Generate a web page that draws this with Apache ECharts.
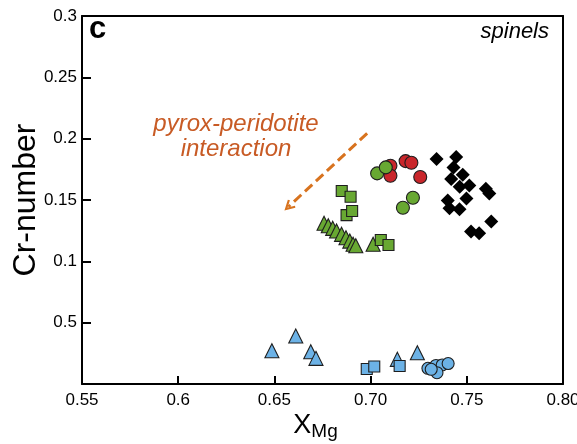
<!DOCTYPE html>
<html>
<head>
<meta charset="utf-8">
<script src="https://cdn.jsdelivr.net/npm/echarts@6/dist/echarts.min.js"></script>
<style>
html,body{margin:0;padding:0;background:#fff;}
#chart{width:577px;height:444px;}
</style>
</head>
<body>
<div id="chart"></div>
<script>
// ---- data ----
const xTickLabels = ['0.55', '0.6', '0.65', '0.70', '0.75', '0.80'];
const yTickLabels = ['', '0.5', '0.1', '0.15', '0.2', '0.25', '0.3'];

const blackDiamonds = [[0.7343,0.1834],[0.7445,0.185],[0.7431,0.1764],[0.7479,0.1706],[0.7419,0.1672],[0.7513,0.1619],[0.7463,0.1608],[0.7599,0.1591],[0.7617,0.1554],[0.7498,0.1513],[0.7401,0.1496],[0.741,0.1432],[0.7462,0.1425],[0.7627,0.1324],[0.7522,0.1244],[0.7564,0.1228]];
const redCircles = [[0.7103,0.1779],[0.7103,0.1698],[0.7182,0.1817],[0.7212,0.1804],[0.7258,0.1687]];
const greenCircles = [[0.7034,0.1717],[0.7079,0.1766],[0.722,0.1518],[0.7168,0.1437]];
const greenSquares = [[0.685,0.1573],[0.6896,0.1527],[0.6875,0.1377],[0.6904,0.141],[0.7053,0.1174],[0.7093,0.1133]];
const greenTriangles = [[0.6758,0.131],[0.678,0.129],[0.6803,0.1269],[0.6823,0.1247],[0.6849,0.122],[0.6872,0.1192],[0.6892,0.1165],[0.6909,0.1139],[0.6923,0.1127],[0.7013,0.1139]];
const blueTriangles = [[0.6487,0.0271],[0.6611,0.0391],[0.6689,0.0263],[0.6716,0.0209],[0.7139,0.0201],[0.7243,0.0255]];
const blueSquares = [[0.698,0.0122],[0.7019,0.0143],[0.7151,0.0147]];
const blueCircles = [[0.7298,0.0128],[0.734,0.0151],[0.7372,0.0155],[0.7403,0.0167],[0.7345,0.0092],[0.7315,0.012]];
const arrowStart = [0.6982, 0.2043];
const arrowEnd = [0.6573, 0.1445];

// ---- chart ----
const FONT = "'Liberation Sans', Arial, Helvetica, sans-serif";
const GREEN = '#68a832', RED = '#c9262b', BLUE = '#6cb2e6', EDGE = '#1e1e1e';
const chart = echarts.init(document.getElementById('chart'), null, {renderer: 'canvas'});

function sc(name, data, symbol, size, color, edge) {
  return {
    name: name, type: 'scatter', data: data, symbol: symbol, symbolSize: size,
    itemStyle: {color: color, borderColor: edge ? EDGE : color, borderWidth: edge ? 1.1 : 0, opacity: 1},
    emphasis: {disabled: true}, z: 3
  };
}

const chevron = 'path://M5,0 L10,8.2 L8.4,9.2 L5,3.6 L1.6,9.2 L0,8.2 Z';
const frameAxis = {
  show: true, axisLine: {show: true, onZero: false, lineStyle: {color: '#000', width: 2}},
  axisTick: {show: false}, axisLabel: {show: false}, splitLine: {show: false}
};

chart.setOption({
  animation: false,
  backgroundColor: '#fff',
  grid: {left: 82, right: 14, top: 16, bottom: 60, show: false, containLabel: false, outerBoundsMode: 'none'},
  xAxis: [{
    type: 'value', min: 0.55, max: 0.8, interval: 0.05, position: 'bottom',
    axisLine: {show: true, onZero: false, lineStyle: {color: '#000', width: 2}},
    axisTick: {show: true, inside: true, length: 8, lineStyle: {color: '#000', width: 2}},
    splitLine: {show: false},
    axisLabel: {
      color: '#000', fontSize: 17, fontFamily: FONT, margin: 8,
      formatter: function (v) { return xTickLabels[Math.round((v - 0.55) / 0.05)]; }
    },
    name: '{a|X}{b|Mg}', nameLocation: 'middle', nameGap: 28, nameMoveOverlap: false,
    nameTextStyle: {padding: [0, 14, 0, 0], rich: {
      a: {fontSize: 27, fontFamily: FONT, color: '#000', verticalAlign: 'bottom'},
      b: {fontSize: 19, fontFamily: FONT, color: '#000', verticalAlign: 'bottom', padding: [0, 0, -2, 0]}
    }}
  }, Object.assign({type: 'value', min: 0.55, max: 0.8, position: 'top'}, frameAxis)],
  yAxis: [{
    type: 'value', min: 0, max: 0.3, interval: 0.05, position: 'left',
    axisLine: {show: true, onZero: false, lineStyle: {color: '#000', width: 2}},
    axisTick: {show: true, inside: true, length: 9, lineStyle: {color: '#000', width: 2}},
    splitLine: {show: false},
    axisLabel: {
      color: '#000', fontSize: 17, fontFamily: FONT, margin: 5,
      formatter: function (v) { return yTickLabels[Math.round(v / 0.05)]; }
    },
    name: 'Cr-number', nameLocation: 'middle', nameGap: 40, nameRotate: 90, nameMoveOverlap: false,
    nameTextStyle: {fontSize: 32, fontFamily: FONT, color: '#000'}
  }, Object.assign({type: 'value', min: 0, max: 0.3, position: 'right'}, frameAxis)],
  series: [
    sc('blue triangles', blueTriangles, 'triangle', 14, BLUE, true),
    sc('blue squares', blueSquares, 'rect', 11, BLUE, true),
    sc('blue circles', blueCircles, 'circle', 12, BLUE, true),
    sc('green triangles', greenTriangles, 'triangle', 14, GREEN, true),
    sc('green squares', greenSquares, 'rect', 11, GREEN, true),
    sc('red circles', redCircles, 'circle', 13, RED, true),
    sc('green circles', greenCircles, 'circle', 13, GREEN, true),
    sc('black diamonds', blackDiamonds, 'diamond', 14, '#000', false),
    {
      type: 'lines', coordinateSystem: 'cartesian2d', silent: true, z: 2,
      symbol: ['none', chevron], symbolSize: [12, 11],
      lineStyle: {color: '#d8731f', width: 3, type: [10, 5], opacity: 1},
      data: [{coords: [arrowStart, arrowEnd]}]
    }
  ],
  graphic: [
    {type: 'text', style: {
      text: 'pyrox-peridotite\ninteraction', x: 236, y: 112, align: 'center', verticalAlign: 'top',
      fill: '#c85b25', font: 'italic 24px ' + FONT, lineHeight: 25
    }},
    {type: 'text', style: {text: 'spinels', x: 549, y: 21, align: 'right', verticalAlign: 'top', fill: '#000', font: 'italic 22px ' + FONT}},
    {type: 'text', style: {text: 'c', x: 89, y: 14, verticalAlign: 'top', fill: '#000', font: 'bold 31px ' + FONT}}
  ]
});
</script>
</body>
</html>
